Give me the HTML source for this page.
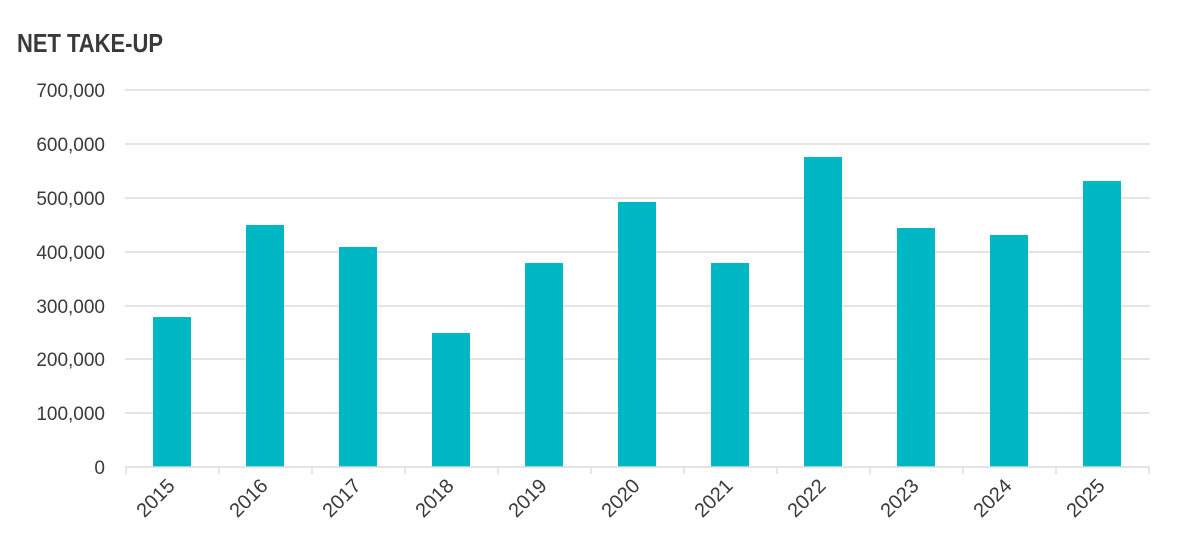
<!DOCTYPE html>
<html><head><style>html,body{margin:0;padding:0;background:#fff}</style></head><body>
<svg width="1200" height="549" viewBox="0 0 1200 549" xmlns="http://www.w3.org/2000/svg" font-family="Liberation Sans, sans-serif">
<text x="17" y="52" font-size="26" font-weight="bold" fill="#3a3a3a" textLength="146" lengthAdjust="spacingAndGlyphs">NET TAKE-UP</text>
<g stroke="#dcdcdc" stroke-width="1.5">
<line x1="125" x2="1150" y1="90" y2="90"/><line x1="125" x2="1150" y1="144" y2="144"/>
<line x1="125" x2="1150" y1="198" y2="198"/><line x1="125" x2="1150" y1="252" y2="252"/>
<line x1="125" x2="1150" y1="306" y2="306"/><line x1="125" x2="1150" y1="359" y2="359"/>
<line x1="125" x2="1150" y1="413" y2="413"/>
</g>
<g font-size="19" fill="#3a3a3a" text-anchor="end">
<text x="105" y="97">700,000</text><text x="105" y="151">600,000</text><text x="105" y="205">500,000</text>
<text x="105" y="259">400,000</text><text x="105" y="313">300,000</text><text x="105" y="366">200,000</text>
<text x="105" y="420">100,000</text><text x="105" y="474">0</text>
</g>
<g fill="#00b7c4">
<rect x="153" y="317" width="38" height="150"/>
<rect x="246" y="225" width="38" height="242"/>
<rect x="339" y="247" width="38" height="220"/>
<rect x="432" y="333" width="38" height="134"/>
<rect x="525" y="263" width="38" height="204"/>
<rect x="618" y="202" width="38" height="265"/>
<rect x="711" y="263" width="38" height="204"/>
<rect x="804" y="157" width="38" height="310"/>
<rect x="897" y="228" width="38" height="239"/>
<rect x="990" y="235" width="38" height="232"/>
<rect x="1083" y="181" width="38" height="286"/>
</g>
<g stroke="#dcdcdc" stroke-width="1.5">
<line x1="125" x2="1150" y1="467" y2="467"/>
<line x1="126" x2="126" y1="467" y2="474"/><line x1="219" x2="219" y1="467" y2="474"/>
<line x1="312" x2="312" y1="467" y2="474"/><line x1="405" x2="405" y1="467" y2="474"/>
<line x1="498" x2="498" y1="467" y2="474"/><line x1="591" x2="591" y1="467" y2="474"/>
<line x1="684" x2="684" y1="467" y2="474"/><line x1="777" x2="777" y1="467" y2="474"/>
<line x1="870" x2="870" y1="467" y2="474"/><line x1="963" x2="963" y1="467" y2="474"/>
<line x1="1056" x2="1056" y1="467" y2="474"/><line x1="1149" x2="1149" y1="467" y2="474"/>
</g>
<g font-size="20" fill="#3a3a3a" text-anchor="end">
<text transform="translate(176,487) rotate(-45)">2015</text>
<text transform="translate(269,487) rotate(-45)">2016</text>
<text transform="translate(362,487) rotate(-45)">2017</text>
<text transform="translate(455,487) rotate(-45)">2018</text>
<text transform="translate(548,487) rotate(-45)">2019</text>
<text transform="translate(641,487) rotate(-45)">2020</text>
<text transform="translate(734,487) rotate(-45)">2021</text>
<text transform="translate(827,487) rotate(-45)">2022</text>
<text transform="translate(920,487) rotate(-45)">2023</text>
<text transform="translate(1013,487) rotate(-45)">2024</text>
<text transform="translate(1106,487) rotate(-45)">2025</text>
</g>
</svg>
</body></html>
